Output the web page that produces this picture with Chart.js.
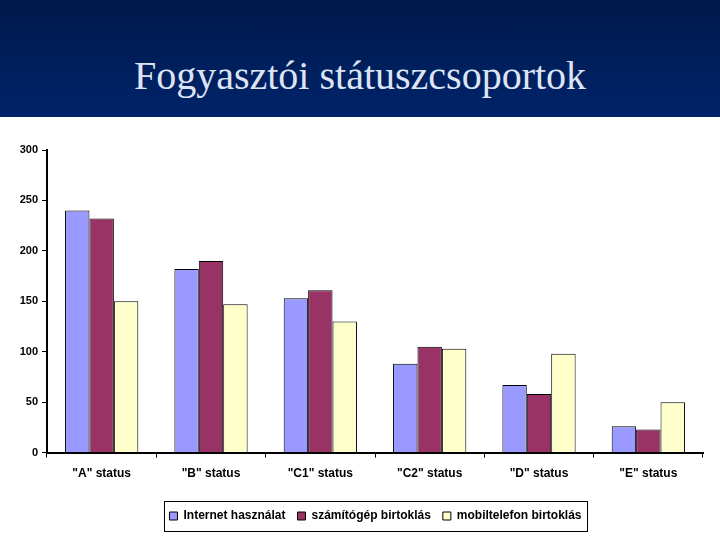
<!DOCTYPE html>
<html>
<head>
<meta charset="utf-8">
<script src="https://cdn.jsdelivr.net/npm/chart.js@4"></script>
<style>
    html, body { margin: 0; padding: 0; background: #fff; }
    #fejlec {
        width: 720px; height: 117px;
        background: linear-gradient(#00184a, #00246a);
        position: relative;
    }
    #fejlec h1 {
        margin: 0; position: absolute; left: 0; right: 0; top: 52px;
        text-align: center; font-family: "Liberation Serif", serif;
        font-weight: normal; font-size: 40px; color: #dde5f5;
    }
    #doboz { width: 720px; height: 423px; position: relative; }
</style>
</head>
<body>
<div id="fejlec"><h1>Fogyasztói státuszcsoportok</h1></div>
<div id="doboz"><canvas id="grafikon"></canvas></div>
<script>
    // adatok
    const kategoriak = ['"A" status', '"B" status', '"C1" status', '"C2" status', '"D" status', '"E" status'];
    const internet = [240, 182, 153, 88, 67, 26];
    const szamitogep = [232, 190, 161, 105, 58, 23];
    const mobil = [150, 147, 130, 103, 98, 50];
    const sorozatNevek = ['Internet használat', 'számítógép birtoklás', 'mobiltelefon birtoklás'];
    const yTickek = [0, 50, 100, 150, 200, 250, 300];

    const betu = { family: '"Liberation Sans", Arial, sans-serif', weight: 'bold', size: 12 };

    // jelmagyarázat a rajzterület közepére + keret köré
    const legendKeret = {
        id: 'legendKeret',
        afterLayout(chart) {
            const lg = chart.legend;
            const ca = chart.chartArea;
            const eltolas = Math.round((ca.left + ca.right) / 2 - (lg.left + lg.right) / 2);
            lg.left += eltolas;
            lg.right += eltolas;
        },
        afterDraw(chart) {
            const lg = chart.legend;
            if (!lg || !lg.legendHitBoxes.length) return;
            const boxes = lg.legendHitBoxes;
            const x1 = boxes[0].left - 5;
            const last = boxes[boxes.length - 1];
            const x2 = last.left + last.width + 6;
            const y1 = boxes[0].top - 9;
            const y2 = boxes[0].top + boxes[0].height + 9;
            const ctx = chart.ctx;
            ctx.save();
            ctx.strokeStyle = '#000';
            ctx.lineWidth = 1;
            ctx.strokeRect(Math.round(x1) + 0.5, Math.round(y1) + 0.5, Math.round(x2 - x1), Math.round(y2 - y1));
            ctx.restore();
        }
    };

    const sor = (label, data, szin) => ({
        label: label,
        data: data,
        backgroundColor: szin,
        borderColor: '#000',
        borderWidth: 1,
        barPercentage: 1,
        categoryPercentage: 0.67
    });

    new Chart(document.getElementById('grafikon'), {
        type: 'bar',
        data: {
            labels: kategoriak,
            datasets: [
                sor(sorozatNevek[0], internet, '#9999ff'),
                sor(sorozatNevek[1], szamitogep, '#993366'),
                sor(sorozatNevek[2], mobil, '#ffffcc')
            ]
        },
        options: {
            responsive: true,
            maintainAspectRatio: false,
            animation: false,
            layout: { padding: { top: 33, right: 17, bottom: 8, left: 0 } },
            plugins: {
                tooltip: { enabled: false },
                legend: {
                    position: 'bottom',
                    labels: {
                        color: '#000',
                        font: betu,
                        boxWidth: 8,
                        boxHeight: 8,
                        padding: 12
                    }
                }
            },
            scales: {
                x: {
                    afterFit: (axis) => { axis.height += 8; },
                    grid: { offset: true, drawOnChartArea: false, drawTicks: true, tickLength: 5, color: '#000' },
                    border: { color: '#000', width: 2 },
                    ticks: { color: '#000', font: betu, padding: 9 }
                },
                y: {
                    min: 0, max: 300,
                    afterBuildTicks: (axis) => { axis.ticks = yTickek.map(v => ({ value: v })); },
                    afterFit: (axis) => { axis.width = 47; },
                    grid: { drawOnChartArea: false, drawTicks: true, tickLength: 5, color: '#000' },
                    border: { color: '#000', width: 2 },
                    ticks: { color: '#000', font: { family: betu.family, weight: 'bold', size: 11 }, padding: 4 }
                }
            }
        },
        plugins: [legendKeret]
    });
</script>
</body>
</html>
